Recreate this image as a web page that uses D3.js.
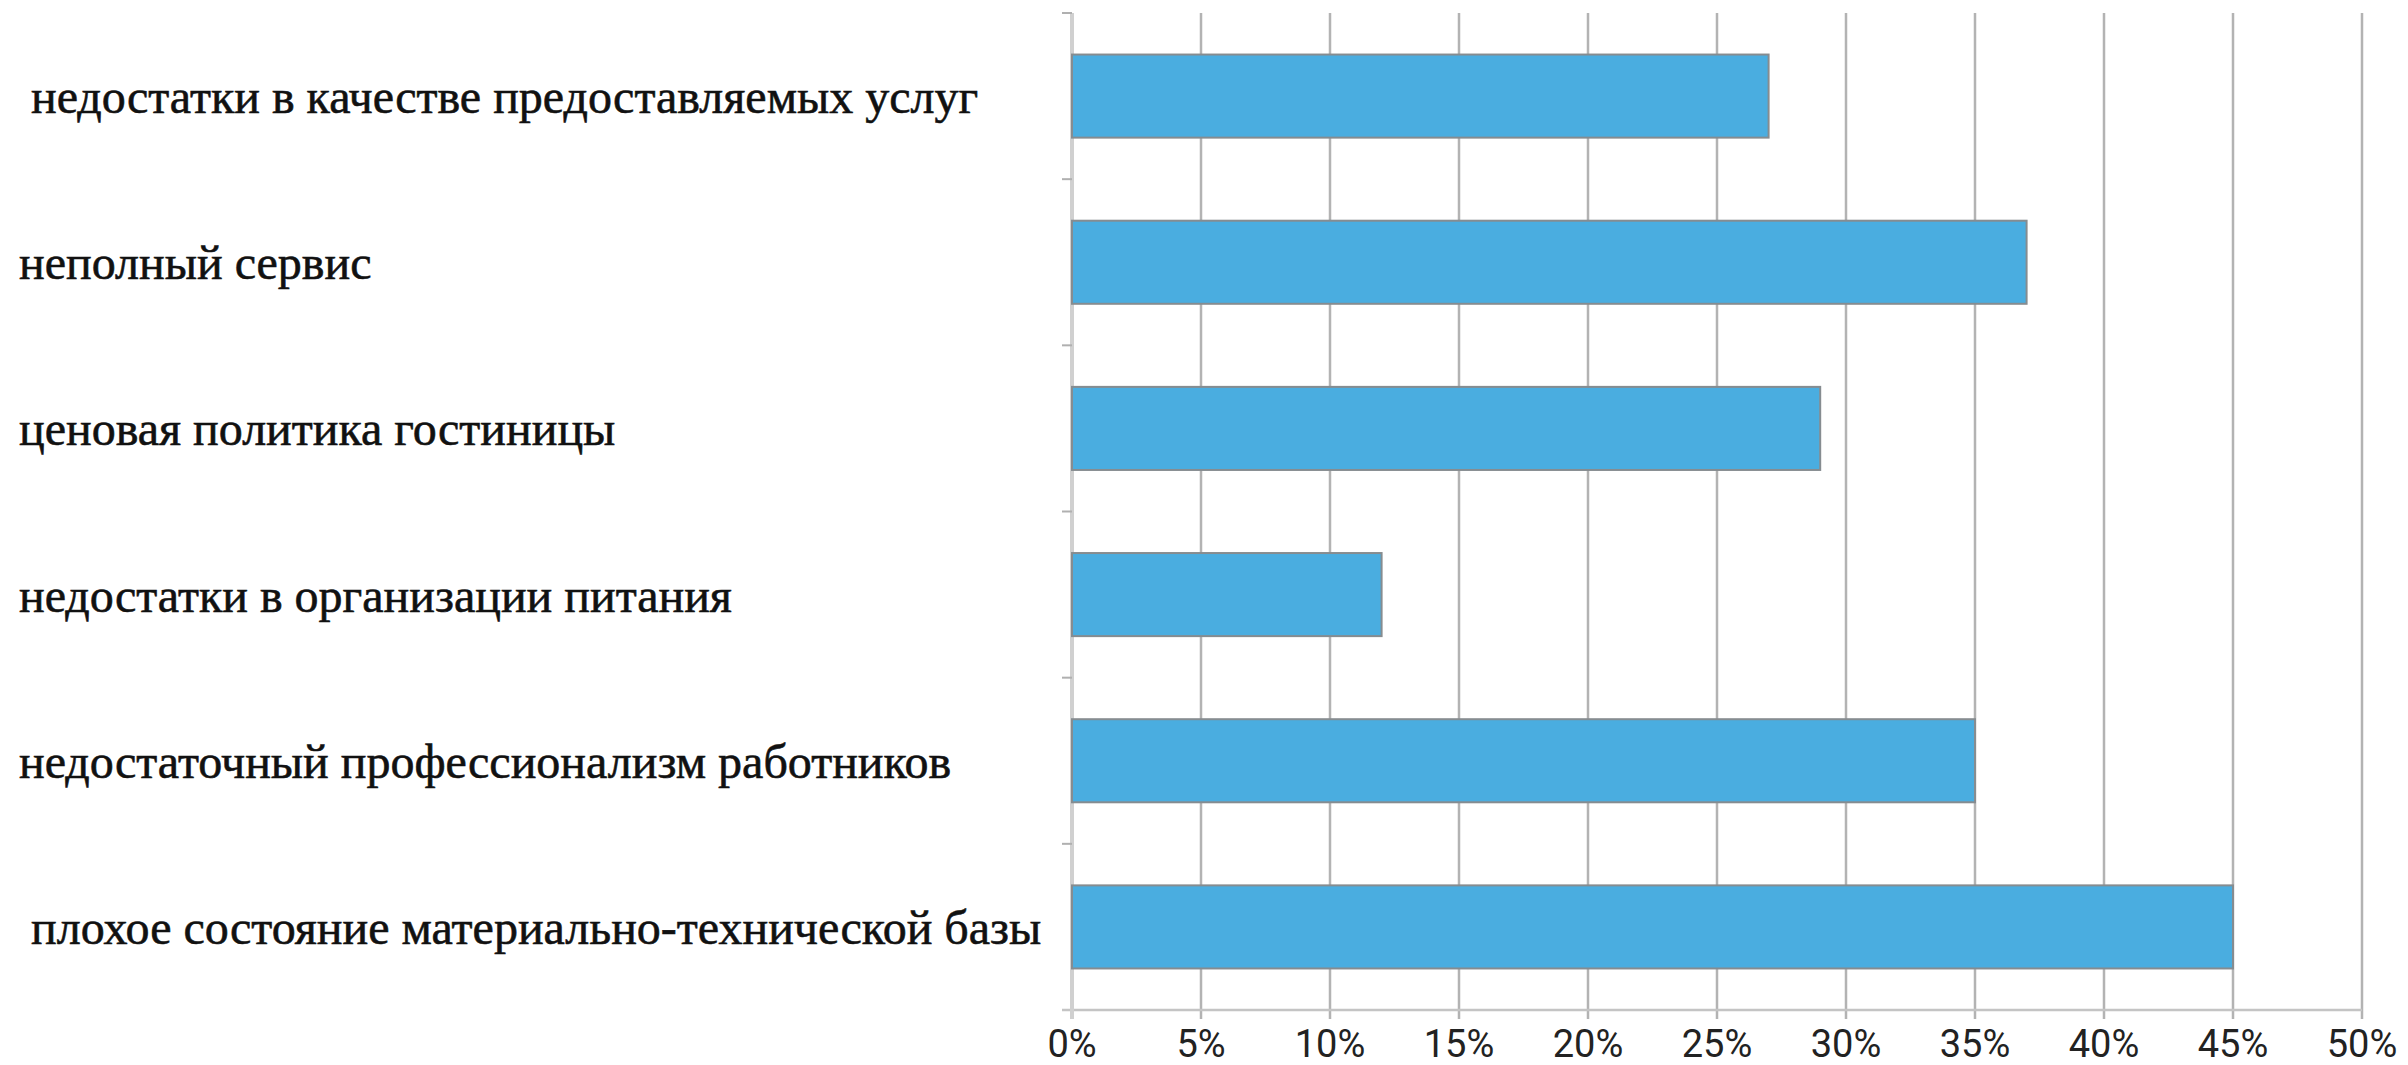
<!DOCTYPE html>
<html>
<head>
<meta charset="utf-8">
<script src="https://cdn.jsdelivr.net/npm/d3@7"></script>
<style>
  body { margin: 0; background: #fff; }
  svg { display: block; }
  .cat-label { font-family: "Liberation Serif", "DejaVu Serif", serif; fill: #111; stroke: #111; stroke-width: 0.6px; white-space: pre; }
  .tick-label { font-family: Roboto, "Liberation Sans", sans-serif; fill: #222; }
</style>
</head>
<body>
<div id="chart"></div>
<script>
// Data setup (top to bottom)
const categories = [
    " недостатки в качестве предоставляемых услуг",
    "неполный сервис",
    "ценовая политика гостиницы",
    "недостатки в организации питания",
    "недостаточный профессионализм работников",
    " плохое состояние материально-технической базы"
];
const values = [0.27, 0.37, 0.29, 0.12, 0.35, 0.45];
const xTicks = [0, 0.05, 0.10, 0.15, 0.20, 0.25, 0.30, 0.35, 0.40, 0.45, 0.50];

const data = categories.map((c, i) => ({category: c, value: values[i]}));

// Dimensions
const width = 2408, height = 1065;
const plot = {left: 1072, right: 2362, top: 13, bottom: 1010};

const svg = d3.select("#chart")
    .append("svg")
    .attr("width", width)
    .attr("height", height);

const xScale = d3.scaleLinear()
    .domain([0, 0.5])
    .range([plot.left, plot.right]);

const yScale = d3.scaleBand()
    .domain(categories)
    .range([plot.top, plot.bottom])
    .paddingInner(0.5)
    .paddingOuter(0.25);

// Vertical gridlines + ticks below axis
svg.append("g")
    .selectAll("line")
    .data(xTicks.slice(1))
    .enter()
    .append("line")
    .attr("x1", d => xScale(d))
    .attr("x2", d => xScale(d))
    .attr("y1", plot.top)
    .attr("y2", plot.bottom + 9)
    .attr("stroke", "#b3b3b3")
    .attr("stroke-width", 2.5);

// Bottom axis line
svg.append("line")
    .attr("x1", plot.left - 10)
    .attr("x2", plot.right)
    .attr("y1", plot.bottom)
    .attr("y2", plot.bottom)
    .attr("stroke", "#c4c4c4")
    .attr("stroke-width", 2.5);

// Left axis line and category boundary ticks
svg.append("line")
    .attr("x1", plot.left)
    .attr("x2", plot.left)
    .attr("y1", plot.top)
    .attr("y2", plot.bottom + 9)
    .attr("stroke", "#d0d0d0")
    .attr("stroke-width", 4);

const step = yScale.step();
svg.append("g")
    .selectAll("line")
    .data(d3.range(categories.length))
    .enter()
    .append("line")
    .attr("x1", plot.left - 10)
    .attr("x2", plot.left)
    .attr("y1", i => plot.top + i * step)
    .attr("y2", i => plot.top + i * step)
    .attr("stroke", "#b0b0b0")
    .attr("stroke-width", 2);

// Bars
svg.append("g")
    .selectAll("rect")
    .data(data)
    .enter()
    .append("rect")
    .attr("x", xScale(0))
    .attr("y", d => yScale(d.category))
    .attr("width", d => xScale(d.value) - xScale(0))
    .attr("height", yScale.bandwidth())
    .attr("fill", "#4aade0")
    .attr("stroke", "#868c90")
    .attr("stroke-width", 2);

// Category labels
svg.append("g")
    .selectAll("text")
    .data(data)
    .enter()
    .append("text")
    .attr("class", "cat-label")
    .attr("x", 19)
    .attr("y", d => yScale(d.category) + yScale.bandwidth() / 2 + 17)
    .style("font-size", "48px")
    .text(d => d.category);

// X tick labels
svg.append("g")
    .selectAll("text")
    .data(xTicks)
    .enter()
    .append("text")
    .attr("class", "tick-label")
    .attr("x", d => xScale(d))
    .attr("y", 1057)
    .attr("text-anchor", "middle")
    .style("font-size", "38px")
    .text(d3.format(".0%"));
</script>
</body>
</html>
